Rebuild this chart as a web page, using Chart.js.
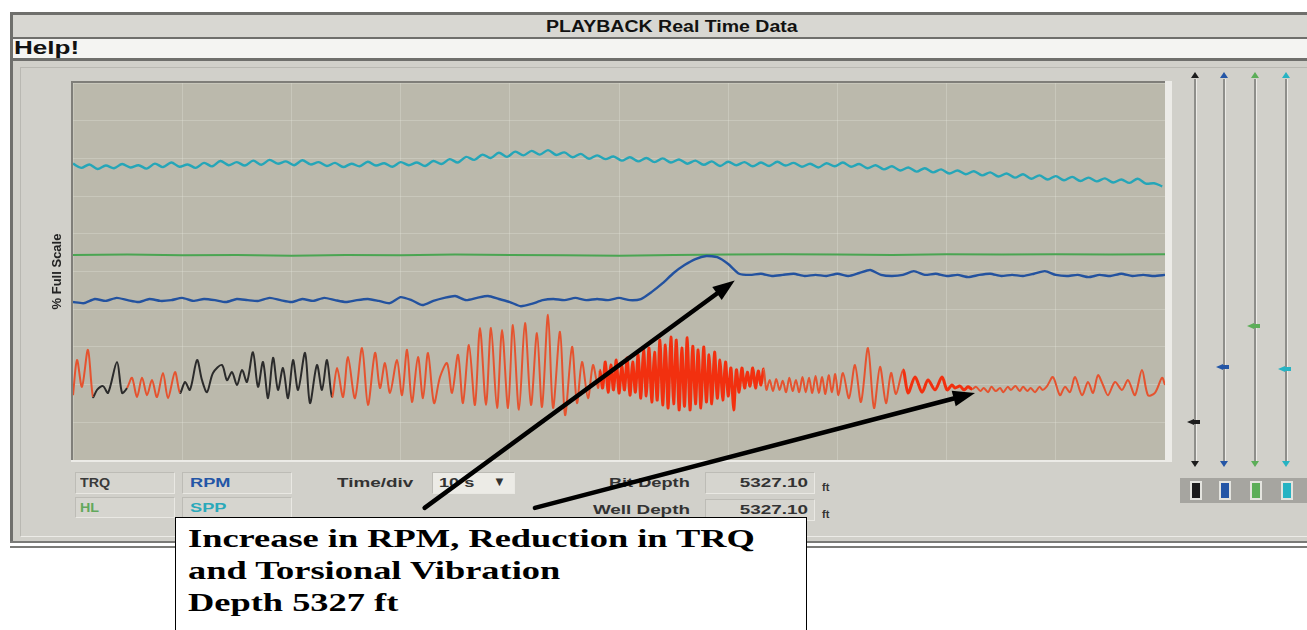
<!DOCTYPE html>
<html>
<head>
<meta charset="utf-8">
<title>PLAYBACK Real Time Data</title>
<script src="https://cdn.jsdelivr.net/npm/chart.js@4.4.1/dist/chart.umd.min.js"></script>
<style>
  html, body { margin: 0; padding: 0; }
  body { width: 1307px; height: 630px; position: relative; overflow: hidden; background: #fff;
         font-family: "Liberation Sans", Arial, sans-serif; }
  .abs { position: absolute; }
  .frame { left: 10px; top: 12px; width: 1300px; height: 530px; background: #d1d0ca;
           border-left: 3px solid #6f6f6c; border-top: 3px solid #6f6f6c; box-sizing: border-box; }
  .titlebar { left: 13px; top: 15px; width: 1294px; height: 22px; background: #d8d7d2; border-bottom: 2px solid #6f6f6c; }
  .menubar { left: 13px; top: 39px; width: 1294px; height: 19px; background: #f4f4f2; border-bottom: 3px solid #6f6f6c; }
  .inner { left: 20px; top: 67px; width: 1290px; height: 468px; border-top: 1px solid #b9b8b2; border-left: 1px solid #b9b8b2; border-bottom: 1px solid #ecebe7; }
  .hline { left: 10px; width: 1297px; height: 2px; background: #7a7a77; }
  .txt { position: absolute; white-space: nowrap; font-weight: bold; transform-origin: 0 50%; }
  .rtxt { position: absolute; white-space: nowrap; font-weight: bold; transform-origin: 100% 50%; text-align: right; }
  .box { position: absolute; background: #d6d5cf; border: 1px solid #e9e8e3; border-top-color: #bdbcb6; border-left-color: #bdbcb6; box-sizing: border-box; }
  .note { position: absolute; left: 175px; top: 517px; width: 632px; height: 130px; background: #fff;
          border: 1.5px solid #000; box-sizing: border-box; z-index: 6; }
  .note div { position: absolute; left: 12px; font: bold 26px "Liberation Serif", "Times New Roman", serif;
              color: #000; white-space: nowrap; transform: scaleX(1.4); transform-origin: 0 50%; }
  #chart { position: absolute; left: 0; top: 0; z-index: 5; }
</style>
</head>
<body>
<div class="abs frame"></div>
<div class="abs titlebar"></div>
<div class="txt" style="left:546px; top:18px; font-size:16px; color:#111; transform:scaleX(1.22);">PLAYBACK Real Time Data</div>
<div class="abs menubar"></div>
<div class="txt" style="left:14px; top:38px; font-size:18px; color:#111; transform:scaleX(1.45);">Help!</div>
<div class="abs inner"></div>
<div class="abs hline" style="top:541px;"></div>
<div class="abs hline" style="top:546px;"></div>

<div class="box" style="left:75px; top:472px; width:100px; height:22px;"></div>
<div class="txt" style="left:80px; top:475px; font-size:13px; color:#3a3a3a; transform:scaleX(1.1);">TRQ</div>
<div class="box" style="left:182px; top:472px; width:110px; height:22px;"></div>
<div class="txt" style="left:190px; top:475px; font-size:13px; color:#2456a6; transform:scaleX(1.4);">RPM</div>
<div class="box" style="left:75px; top:497px; width:100px; height:21px;"></div>
<div class="txt" style="left:80px; top:500px; font-size:13px; color:#62a85c; transform:scaleX(1.1);">HL</div>
<div class="box" style="left:182px; top:497px; width:110px; height:21px;"></div>
<div class="txt" style="left:190px; top:500px; font-size:13px; color:#2aa9ba; transform:scaleX(1.4);">SPP</div>

<div class="txt" style="left:337px; top:475px; font-size:13px; color:#333; transform:scaleX(1.45);">Time/div</div>
<div class="box" style="left:432px; top:472px; width:83px; height:22px; background:#ecebe6;"></div>
<div class="txt" style="left:439px; top:475px; font-size:13px; color:#333; transform:scaleX(1.4);">10 s</div>
<div class="txt" style="left:493px; top:474px; font-size:13px; color:#333;">&#9660;</div>

<div class="rtxt" style="right:617px; top:475px; font-size:13px; color:#333; transform:scaleX(1.4);">Bit Depth</div>
<div class="box" style="left:705px; top:472px; width:110px; height:22px;"></div>
<div class="rtxt" style="right:499px; top:475px; font-size:13px; color:#333; transform:scaleX(1.45);">5327.10</div>
<div class="txt" style="left:822px; top:481px; font-size:11px; color:#333;">ft</div>
<div class="rtxt" style="right:617px; top:502px; font-size:13px; color:#333; transform:scaleX(1.45);">Well Depth</div>
<div class="box" style="left:705px; top:499px; width:110px; height:22px;"></div>
<div class="rtxt" style="right:499px; top:502px; font-size:13px; color:#333; transform:scaleX(1.45);">5327.10</div>
<div class="txt" style="left:822px; top:508px; font-size:11px; color:#333;">ft</div>

<div id="sliders"></div>

<canvas id="chart" width="1307" height="630"></canvas>

<div class="note">
  <div style="top:6px;">Increase in RPM, Reduction in TRQ</div>
  <div style="top:38px;">and Torsional Vibration</div>
  <div style="top:70px;">Depth 5327 ft</div>
</div>

<script>
// ---- data (time in s, values in % full scale) ----
const trqTimes = [
  0, 0.37, 0.82, 1.37, 1.83, 2.20, 2.75, 3.21, 4.03, 4.49, 4.95, 5.40, 5.86, 6.32, 6.78, 7.23, 7.69, 8.24, 8.70, 9.34,
  9.80, 10.26, 10.71, 11.36, 11.81, 12.27, 12.82, 13.64, 14.10, 14.56, 15.02, 15.48, 15.93, 16.48, 16.94, 17.40, 17.86, 18.32, 18.77, 19.23,
  19.69, 20.15, 20.61, 21.25, 21.70, 22.34, 22.80, 23.26, 23.72, 24.18, 24.73, 25.18, 25.82, 26.47, 27.01, 27.66, 28.11, 28.57, 29.03, 29.67,
  30.13, 30.59, 31.04, 31.59, 32.05, 32.51, 33.06, 33.61, 34.25, 34.71, 35.26, 35.71, 36.26, 36.81, 37.27, 37.82, 38.28, 38.83, 39.29, 39.84,
  40.29, 40.84, 41.39, 41.94, 42.49, 42.95, 43.50, 43.96, 44.60, 45.06, 45.70, 46.15, 46.61, 47.16, 47.62, 48.08,
  48.25, 48.5, 48.75, 49, 49.25, 49.5, 49.75, 50, 50.25, 50.5, 50.75, 51, 51.25, 51.5, 51.75, 52, 52.25, 52.5, 52.75, 53,
  53.25, 53.5, 53.75, 54, 54.25, 54.5, 54.75, 55, 55.25, 55.5, 55.75, 56, 56.25, 56.5, 56.75, 57, 57.25, 57.5, 57.75, 58,
  58.25, 58.5, 58.75, 59, 59.25, 59.5, 59.75, 60, 60.25, 60.5, 60.75, 61, 61.25, 61.5, 61.75, 62, 62.25, 62.5, 62.75, 63, 63.25,
  63.5, 63.8, 64.1, 64.4, 64.7, 65.0, 65.3, 65.6, 65.9, 66.2, 66.5, 66.8, 67.1, 67.4, 67.7, 68.0, 68.3, 68.6, 68.9, 69.2, 69.5, 69.8, 70.1,
  70.51, 71.06, 71.61, 72.16, 72.80, 73.35, 73.90, 74.45, 74.91, 75.37, 76.01, 76.47, 77.11, 77.75, 78.30, 78.94, 79.58, 80.04, 80.49, 80.77,
  81.23, 81.59, 81.96, 82.33,
  82.7, 83.1, 83.4, 83.8, 84.1, 84.5, 84.9, 85.2, 85.6, 85.9, 86.3, 86.7, 87.0, 87.4, 87.7, 88.1, 88.5, 88.8, 89.2,
  89.74, 90.38, 90.84, 91.30, 91.76, 92.40, 92.95, 93.41, 93.86, 94.32, 94.78, 95.42, 96.06, 96.61, 97.25, 97.89, 98.44, 99.08, 99.73, 100
];
const trqValues = [
  17.2, 26.5, 19.4, 29.2, 16.7, 18.6, 19.6, 17.8, 26.0, 17.8, 19.1, 21.8, 16.7, 21.8, 17.2, 21.2, 16.7, 23.1, 16.4, 23.3,
  17.8, 20.7, 18.6, 26.5, 21.2, 18.0, 23.1, 25.2, 21.2, 23.3, 19.9, 23.9, 20.7, 28.6, 19.4, 26.0, 16.4, 27.1, 18.6, 24.4,
  16.4, 26.5, 18.6, 28.4, 15.1, 25.2, 18.6, 26.5, 16.7, 24.4, 16.7, 27.3, 16.4, 29.7, 14.6, 28.4, 19.1, 25.7, 17.8, 26.5,
  17.2, 29.2, 15.4, 27.3, 16.4, 28.4, 15.1, 22.0, 25.7, 17.8, 27.9, 15.1, 30.5, 14.6, 35.0, 14.6, 35.0, 13.8, 34.5, 13.8,
  35.8, 13.3, 36.3, 14.6, 33.7, 14.1, 38.5, 13.8, 34.0, 11.9, 30.0, 15.1, 26.0, 16.4, 25.2, 19.1,
  23.9, 19.1, 26.0, 18.0, 25.2, 18.6, 26.5, 17.8, 24.9, 18.6, 27.1, 17.2, 26.0, 18.0, 27.9, 16.4, 29.2, 17.0, 29.7, 15.4,
  28.6, 15.9, 31.8, 14.6, 30.5, 13.8, 32.6, 14.9, 31.8, 13.3, 29.7, 14.3, 32.4, 13.3, 30.2, 14.9, 29.2, 13.8, 30.0, 15.4,
  27.9, 14.9, 28.6, 16.4, 26.5, 15.9, 26.0, 17.0, 24.4, 13.3, 23.9, 18.0, 24.4, 19.1, 23.3, 19.6, 24.4, 19.1, 23.6, 19.9, 24.1,
  18.6, 21.2, 18.3, 21.5, 18.6, 21.0, 18.0, 21.8, 18.3, 21.2, 18.0, 22.0, 18.0, 21.8, 17.8, 22.3, 17.8, 22.0, 17.5, 22.5, 18.0, 22.8, 17.2,
  23.1, 16.4, 25.2, 15.4, 29.7, 13.8, 24.7, 15.1, 23.1, 17.5, 23.9, 17.8, 22.0, 18.0, 21.2, 18.6, 22.0, 18.6, 19.9, 19.1,
  19.6, 18.6, 19.4, 18.8,
  19.4, 18.3, 19.1, 18.0, 19.4, 18.3, 19.1, 18.0, 19.4, 18.6, 19.6, 18.3, 19.4, 18.3, 19.1, 18.0, 19.4, 18.6, 19.6,
  22.0, 17.2, 19.4, 18.0, 22.0, 17.2, 20.7, 17.8, 22.5, 19.9, 17.2, 20.7, 18.6, 21.2, 17.2, 23.9, 17.2, 17.8, 21.8, 19.9
];
// parts of the TRQ trace shown in black / solid red
const trqBlackSpans = [[1.9, 5.0], [10.0, 23.6]];
const trqDenseSpans = [[48.2, 63.3], [75.9, 82.4]];

// RPM, one sample per second
const rpmValues = [
  41.9, 41.6, 42.7, 42.2, 43.0, 42.4, 41.9, 42.7, 42.2, 42.4,
  43.0, 42.2, 42.7, 42.4, 41.9, 42.7, 42.4, 42.2, 43.0, 42.4,
  41.9, 42.7, 42.2, 43.0, 42.4, 41.9, 42.4, 42.7, 42.2, 41.6,
  43.2, 42.4, 41.1, 42.2, 43.0, 43.5, 42.4, 43.0, 43.5, 42.7,
  41.9, 40.8, 41.4, 42.4, 42.7, 42.4, 43.0, 42.4, 42.7, 42.4,
  43.0, 42.4, 42.7, 44.6, 46.9, 49.6, 51.7, 53.3, 54.1, 53.8,
  52.0, 49.4, 49.1, 49.4, 48.8, 49.1, 49.4, 48.8, 49.1, 48.8,
  49.4, 48.8, 49.6, 50.4, 49.1, 48.8, 49.1, 50.1, 49.1, 49.4,
  48.8, 49.1, 48.5, 49.1, 49.4, 48.8, 49.1, 48.8, 49.4, 50.1,
  49.1, 48.8, 49.1, 48.5, 49.1, 48.8, 49.4, 48.8, 49.1, 48.8,
  49.1
];
const rpmStep = 1;

// SPP, one sample every 0.75 s
const sppValues = [
  78.6, 77.5, 78.4, 77.2, 78.1, 77.4, 78.5, 77.6, 78.2, 77.3,
  78.6, 77.7, 78.9, 77.8, 78.4, 77.5, 78.8, 77.9, 79.3, 78.2,
  79.0, 78.1, 79.4, 78.3, 79.6, 78.6, 79.2, 78.2, 79.5, 78.4,
  79.0, 78.0, 78.8, 77.7, 78.6, 77.9, 79.1, 78.1, 78.7, 77.8,
  79.0, 78.2, 78.9, 78.0, 79.3, 78.5, 79.8, 78.9, 80.4, 79.6,
  81.0, 80.1, 81.5, 80.4, 81.8, 80.8, 82.0, 81.0, 82.2, 80.9,
  81.6, 80.3, 81.2, 79.9, 80.8, 79.8, 80.5, 79.4, 80.3, 79.2,
  80.1, 79.0, 80.0, 78.9, 79.7, 78.6, 79.4, 78.3, 79.2, 78.0,
  79.1, 78.2, 79.0, 77.9, 78.9, 78.0, 79.1, 78.1, 78.8, 77.8,
  78.6, 77.6, 78.7, 77.9, 78.9, 77.8, 78.5, 77.4, 78.2, 77.1,
  77.9, 76.8, 77.6, 76.5, 77.4, 76.3, 77.1, 76.0, 76.8, 75.8,
  76.6, 75.5, 76.3, 75.2, 76.0, 74.9, 75.8, 74.6, 75.5, 74.4,
  75.3, 74.2, 75.1, 74.0, 74.9, 73.9, 74.7, 73.6, 74.4, 73.5,
  74.6, 73.3, 73.4, 72.6
];
const sppStep = 0.75;

// HL, one sample every 5 s
const hlValues = [54.4, 54.5, 54.3, 54.4, 54.2, 54.4, 54.3, 54.5, 54.4, 54.3, 54.2,
                  54.4, 54.5, 54.6, 54.5, 54.4, 54.6, 54.5, 54.6, 54.5, 54.6];
const hlStep = 5;

// note arrows: tail -> head, in (time, %) units
const arrows = [
  { from: [32.2, -12.7], to: [60.6, 47.6] },
  { from: [42.3, -12.7], to: [82.6, 17.8] }
];

// ---- side sliders (screen furniture) ----
const sliders = [
  { x: 1195, color: '#1c1c1c', marker: 422 },
  { x: 1224, color: '#2456a6', marker: 367 },
  { x: 1255, color: '#5cae58', marker: 326 },
  { x: 1286, color: '#26b3c3', marker: 369 }
];
const sl = document.getElementById('sliders');
let html = '<div class="abs" style="left:1180px;top:478px;width:127px;height:25px;background:#a6a5a0;"></div>';
sliders.forEach(s => {
  html += `<div class="abs" style="left:${s.x - 1}px;top:79px;width:2px;height:382px;background:#8e8e8a;box-shadow:1px 0 0 #ebeae6;"></div>`;
  html += `<div class="abs" style="left:${s.x - 4}px;top:72px;width:0;height:0;border-left:4px solid transparent;border-right:4px solid transparent;border-bottom:6px solid ${s.color};"></div>`;
  html += `<div class="abs" style="left:${s.x - 4}px;top:461px;width:0;height:0;border-left:4px solid transparent;border-right:4px solid transparent;border-top:6px solid ${s.color};"></div>`;
  html += `<div class="abs" style="left:${s.x - 8}px;top:${s.marker - 3}px;width:0;height:0;border-top:3px solid transparent;border-bottom:3px solid transparent;border-right:7px solid ${s.color};"></div>`;
  html += `<div class="abs" style="left:${s.x - 1}px;top:${s.marker - 2}px;width:6px;height:4px;background:${s.color};"></div>`;
  html += `<div class="abs" style="left:${s.x - 5}px;top:481px;width:8px;height:15px;background:${s.color};border:2px solid #e4e4df;"></div>`;
});
sl.innerHTML = html;

// ---- chart ----
const inSpan = (spans, a, b) => spans.some(s => (a + b) / 2 >= s[0] && (a + b) / 2 <= s[1]);

const plotFrame = {
  id: 'plotFrame',
  beforeDraw(chart) {
    const { ctx, chartArea: a } = chart;
    ctx.save();
    ctx.fillStyle = '#bbb9ac';
    ctx.fillRect(a.left, a.top, a.width, a.height);
    ctx.restore();
  },
  afterDraw(chart) {
    const { ctx, chartArea: a, scales } = chart;
    ctx.save();
    ctx.fillStyle = '#7f7e79';
    ctx.fillRect(a.left - 2, a.top - 2, a.width + 2, 2);
    ctx.fillRect(a.left - 2, a.top - 2, 2, a.height + 2);
    ctx.fillStyle = '#ecebe7';
    ctx.fillRect(a.right, a.top - 2, 7, a.height + 4);
    ctx.fillRect(a.left - 2, a.bottom, a.width + 2, 2);
    // arrows to the note
    ctx.strokeStyle = '#000';
    ctx.fillStyle = '#000';
    ctx.lineWidth = 4.5;
    ctx.lineCap = 'round';
    arrows.forEach(ar => {
      const x0 = scales.x.getPixelForValue(ar.from[0]), y0 = scales.y.getPixelForValue(ar.from[1]);
      const x1 = scales.x.getPixelForValue(ar.to[0]), y1 = scales.y.getPixelForValue(ar.to[1]);
      const ang = Math.atan2(y1 - y0, x1 - x0);
      const hl = 22, hw = 8;
      const bx = x1 - hl * Math.cos(ang), by = y1 - hl * Math.sin(ang);
      ctx.beginPath();
      ctx.moveTo(x0, y0);
      ctx.lineTo(bx, by);
      ctx.stroke();
      ctx.beginPath();
      ctx.moveTo(x1, y1);
      ctx.lineTo(bx + hw * Math.sin(ang), by - hw * Math.cos(ang));
      ctx.lineTo(bx - hw * Math.sin(ang), by + hw * Math.cos(ang));
      ctx.closePath();
      ctx.fill();
    });
    ctx.restore();
  }
};

const trqRed = '#e5532f';
const trqDense = '#f2300f';
const trqBlack = '#2b2b2b';

const data = {
  datasets: [
    {
      label: 'TRQ',
      data: trqValues.map((v, i) => ({ x: trqTimes[i], y: v })),
      borderColor: trqRed,
      borderWidth: 2,
      tension: 0.3,
      segment: {
        borderColor: c => inSpan(trqBlackSpans, c.p0.parsed.x, c.p1.parsed.x) ? trqBlack
          : inSpan(trqDenseSpans, c.p0.parsed.x, c.p1.parsed.x) ? trqDense : trqRed,
        borderWidth: c => inSpan(trqDenseSpans, c.p0.parsed.x, c.p1.parsed.x) ? 3 : 2
      }
    },
    {
      label: 'RPM',
      data: rpmValues.map((v, i) => ({ x: i * rpmStep, y: v })),
      borderColor: '#23529f',
      borderWidth: 2.4,
      tension: 0.2
    },
    {
      label: 'HL',
      data: hlValues.map((v, i) => ({ x: i * hlStep, y: v })),
      borderColor: '#4aa552',
      borderWidth: 2
    },
    {
      label: 'SPP',
      data: sppValues.map((v, i) => ({ x: i * sppStep, y: v })),
      borderColor: '#25a6b8',
      borderWidth: 2.4,
      tension: 0.3
    }
  ]
};

const config = {
  type: 'line',
  data: data,
  options: {
    responsive: false,
    animation: false,
    elements: { point: { radius: 0 }, line: { tension: 0 } },
    layout: { padding: { left: 48.4, top: 83, right: 142, bottom: 170 } },
    plugins: { legend: { display: false }, tooltip: { enabled: false } },
    scales: {
      x: {
        type: 'linear', min: 0, max: 100,
        ticks: { display: false, stepSize: 10 },
        grid: { color: 'rgba(232,232,222,0.3)', drawTicks: false },
        border: { display: false }
      },
      y: {
        min: 0, max: 100,
        ticks: { display: false, stepSize: 10 },
        grid: { color: 'rgba(232,232,222,0.3)', drawTicks: false },
        border: { display: false },
        title: {
          display: true, text: '% Full Scale', color: '#222',
          font: { family: '"Liberation Sans", Arial, sans-serif', size: 13, weight: 'bold' },
          padding: { top: 1, bottom: 8 }
        }
      }
    }
  },
  plugins: [plotFrame]
};

const myChart = new Chart(document.getElementById('chart'), config);
</script>
</body>
</html>
